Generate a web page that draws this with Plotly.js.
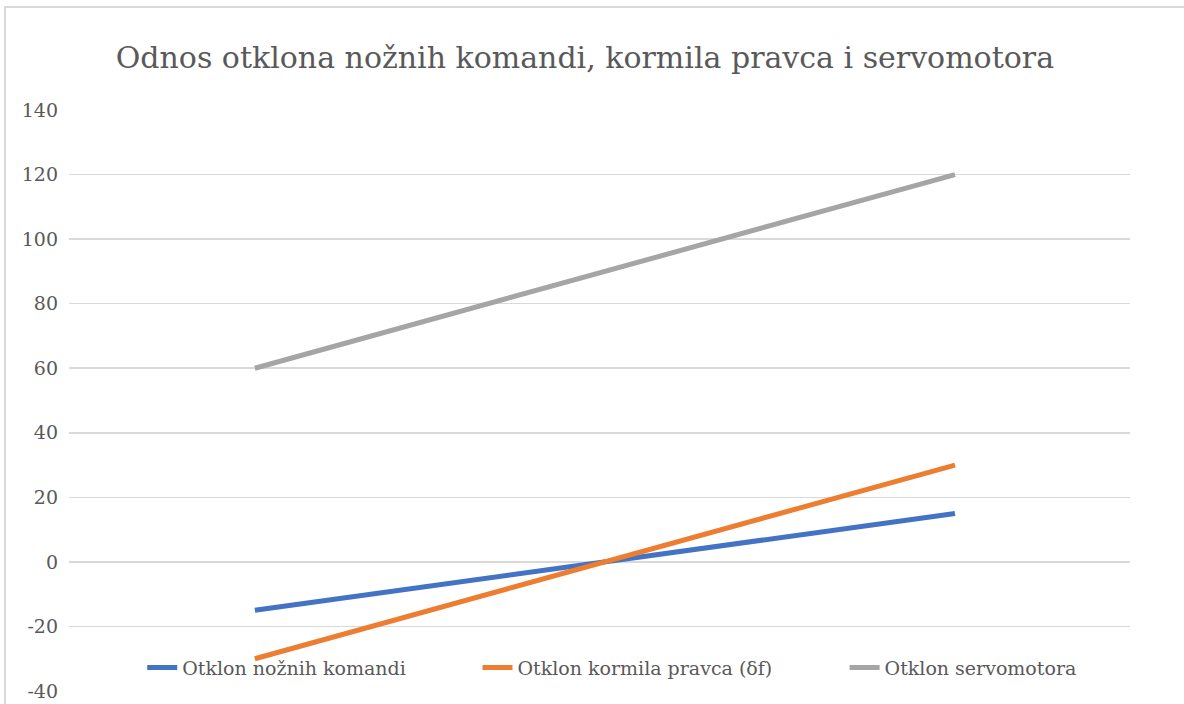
<!DOCTYPE html>
<html>
<head>
<meta charset="utf-8">
<script src="https://cdn.plot.ly/plotly-3.0.1.min.js"></script>
<style>html,body{margin:0;padding:0;background:#fff;}#chart{width:1184px;height:704px;}</style>
</head>
<body>
<div id="chart"></div>
<script>
var categories = ["1", "2", "3"];
var nozneKomande = [-15, 0, 15];
var kormiloPravca = [-30, 0, 30];
var servomotor = [60, 90, 120];
var seriesNames = ["Otklon nožnih komandi", "Otklon kormila pravca (δf)", "Otklon servomotora"];
var yTicks = [-40, -20, 0, 20, 40, 60, 80, 100, 120, 140];

var font = "DejaVu Serif";
var legendFont = {family: font, size: 19, color: "#595959"};
var traces = [
  {x: categories, y: nozneKomande, name: seriesNames[0], mode: "lines", line: {color: "#4472C4", width: 5}, legend: "legend"},
  {x: categories, y: kormiloPravca, name: seriesNames[1], mode: "lines", line: {color: "#ED7D31", width: 5}, legend: "legend2"},
  {x: categories, y: servomotor, name: seriesNames[2], mode: "lines", line: {color: "#A5A5A5", width: 5}, legend: "legend3"}
];
function leg(x) {
  return {orientation: "h", x: x, xanchor: "left", y: 0.04, yanchor: "middle", font: legendFont, bgcolor: "rgba(0,0,0,0)", itemwidth: 30};
}
var layout = {
  width: 1184, height: 704,
  margin: {l: 69, r: 54, t: 110, b: 13},
  paper_bgcolor: "#fff", plot_bgcolor: "#fff",
  font: {family: font, color: "#595959"},
  title: {text: "Odnos otklona nožnih komandi, kormila pravca i servomotora", font: {family: font, size: 30, color: "#595959"}, x: 0.494, xanchor: "center", y: 0.918, yanchor: "middle"},
  xaxis: {type: "category", range: [-0.531, 2.5], showticklabels: false, showgrid: false, zeroline: false, showline: false, ticks: ""},
  yaxis: {range: [-40, 140], tickvals: yTicks, ticktext: yTicks.map(String), showgrid: true, gridcolor: "#d9d9d9", gridwidth: 1.5, zeroline: false, showline: false, ticks: "", ticklen: 0, tickfont: {family: font, size: 19, color: "#595959"}, ticklabelstandoff: 10},
  showlegend: true,
  legend: leg(0.069),
  legend2: leg(0.385),
  legend3: leg(0.731),
  shapes: [
    {type: "rect", xref: "paper", yref: "paper", x0: -0.0603, x1: 1.06, y0: -0.04, y1: 1.1773, line: {color: "#d9d9d9", width: 2}, fillcolor: "rgba(0,0,0,0)", layer: "below"}
  ]
};
Plotly.newPlot("chart", traces, layout, {displayModeBar: false, staticPlot: true});
</script>
</body>
</html>
